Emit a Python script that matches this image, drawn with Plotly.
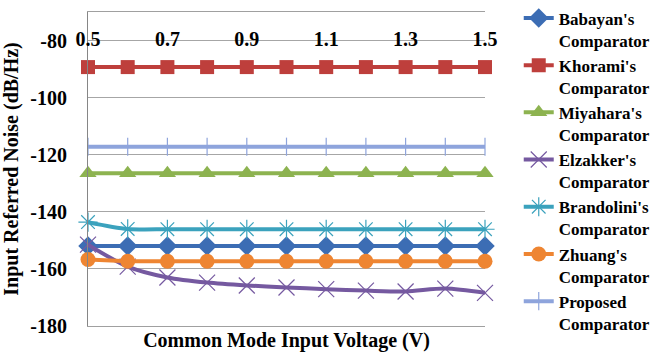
import plotly.graph_objects as go

voltage = [0.5, 0.6, 0.7, 0.8, 0.9, 1.0, 1.1, 1.2, 1.3, 1.4, 1.5]
babayan = [-152, -152, -152, -152, -152, -152, -152, -152, -152, -152, -152]
khorami = [-89.3, -89.3, -89.3, -89.3, -89.3, -89.3, -89.3, -89.3, -89.3, -89.3, -89.3]
miyahara = [-126.5, -126.5, -126.5, -126.5, -126.5, -126.5, -126.5, -126.5, -126.5, -126.5, -126.5]
elzakker = [-151.5, -159.2, -163.0, -164.8, -165.8, -166.5, -167.1, -167.6, -167.9, -166.9, -168.4]
brandolini = [-143.6, -146.0, -146.1, -146.1, -146.1, -146.1, -146.1, -146.1, -146.1, -146.1, -146.1]
zhuang = [-156.7, -157.3, -157.3, -157.3, -157.3, -157.3, -157.3, -157.3, -157.3, -157.3, -157.3]
proposed = [-117.2, -117.2, -117.2, -117.2, -117.2, -117.2, -117.2, -117.2, -117.2, -117.2, -117.2]

x_ticks = [0.5, 0.7, 0.9, 1.1, 1.3, 1.5]
x_ticktext = ["0.5", "0.7", "0.9", "1.1", "1.3", "1.5"]
y_ticks = [-180, -160, -140, -120, -100, -80]
y_ticktext = ["-180", "-160", "-140", "-120", "-100", "-80"]

FONT = "Times New Roman, Liberation Serif, DejaVu Serif, serif"

series = [
    ("<b>Babayan's<br>Comparator</b>", babayan, "#3C6DB4", "diamond", 15, "linear", 0),
    ("<b>Khorami's<br>Comparator</b>", khorami, "#BE3F3C", "square", 14, "linear", 0),
    ("<b>Miyahara's<br>Comparator</b>", miyahara, "#8DB350", "triangle-up", 15, "linear", 0),
    ("<b>Elzakker's<br>Comparator</b>", elzakker, "#7559A0", "x-thin-open", 16, "spline", 1),
    ("<b>Brandolini's<br>Comparator</b>", brandolini, "#3BA2BD", "asterisk-open", 16, "spline", 1),
    ("<b>Zhuang's<br>Comparator</b>", zhuang, "#EE8532", "circle", 15, "linear", 0),
    ("<b>Proposed<br>Comparator</b>", proposed, "#8EA4DC", "line-ns-open", 13, "linear", 1),
]

fig = go.Figure()
for i, (name, vals, color, sym, size, shape, open_) in enumerate(series):
    marker = dict(symbol=sym, size=size, color=color)
    if open_:
        marker["line"] = dict(color=color, width=1.2)
    fig.add_trace(go.Scatter(
        x=voltage, y=vals, name=name, mode="lines+markers",
        line=dict(color=color, width=4, shape=shape, smoothing=0.8),
        marker=marker,
        xaxis="x2" if i == len(series) - 1 else "x",
        cliponaxis=False,
    ))

fig.update_layout(
    width=665, height=354,
    margin=dict(l=88, r=180, t=12, b=28, autoexpand=False),
    plot_bgcolor="white", paper_bgcolor="white",
    font=dict(family=FONT, size=20, color="black"),
    showlegend=True,
    legend=dict(
        x=1.085, y=1.037, xanchor="left", yanchor="top",
        maxheight=352,
        font=dict(family=FONT, size=17, color="black"),
        tracegroupgap=0, valign="top", itemwidth=30,
        bgcolor="rgba(0,0,0,0)",
    ),
    xaxis=dict(
        range=[0.5, 1.5], showgrid=False, zeroline=False, automargin=False,
        showline=True, mirror=True, linecolor="#A0A0A0", linewidth=1,
        showticklabels=False, ticks="",
        title=dict(text="<b>Common Mode Input Voltage (V)</b>",
                   font=dict(family=FONT, size=20), standoff=6),
    ),
    xaxis2=dict(
        matches="x", overlaying="x", anchor="free", position=0.958, side="bottom",
        range=[0.5, 1.5], showgrid=False, zeroline=False, showline=False,
        automargin=False,
        tickvals=x_ticks, ticktext=["<b>%s</b>" % t for t in x_ticktext], ticks="",
        tickfont=dict(family=FONT, size=20),
    ),
    yaxis=dict(
        range=[-180, -70], tickvals=y_ticks, ticktext=["<b>%s</b>" % t for t in y_ticktext],
        showgrid=True, gridcolor="#A6A6A6", gridwidth=1, zeroline=False,
        showline=True, linecolor="#868686", linewidth=1, automargin=False,
        ticks="", ticklabelstandoff=16,
        tickfont=dict(family=FONT, size=20),
        title=dict(text="<b>Input Referred Noise (dB/Hz)</b>",
                   font=dict(family=FONT, size=20), standoff=8),
    ),
)

fig.write_html("out.html")
